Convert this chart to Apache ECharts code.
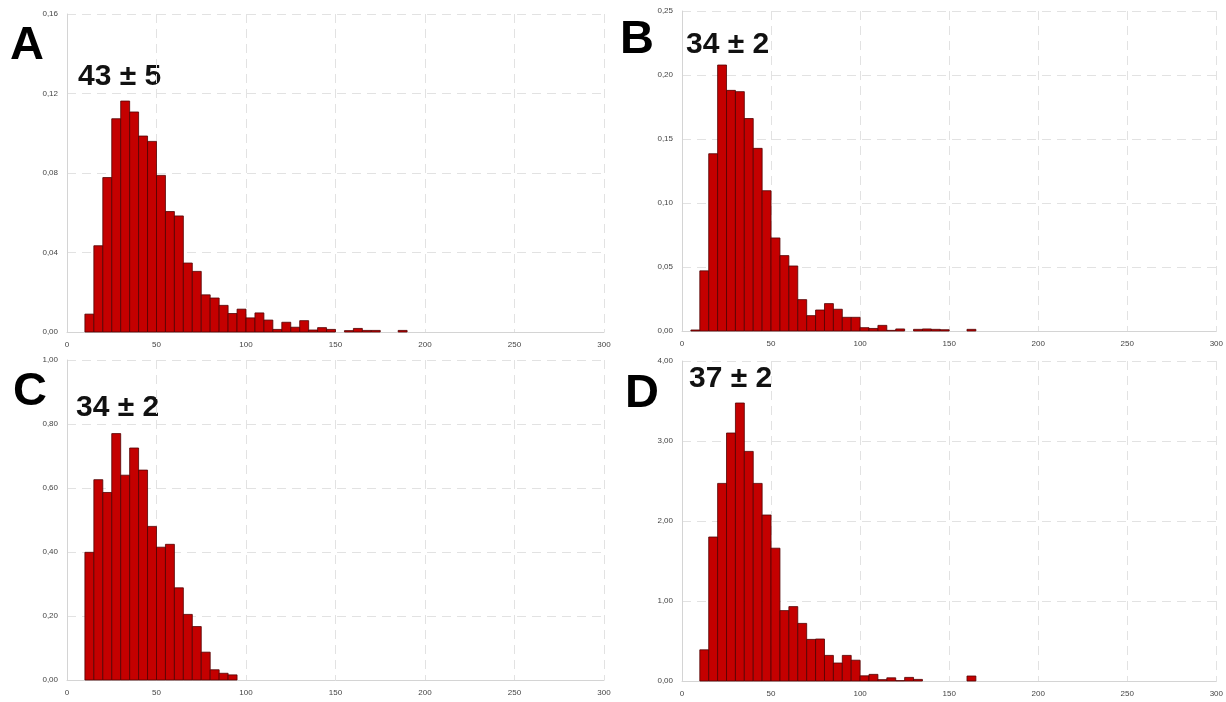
<!DOCTYPE html>
<html>
<head>
<meta charset="UTF-8">
<title>Histograms A-D</title>
<script src="https://cdn.jsdelivr.net/npm/echarts@6/dist/echarts.min.js"></script>
<style>
  html, body { margin: 0; padding: 0; background: #fff; }
  #main { width: 1226px; height: 702px; }
</style>
</head>
<body>
<div id="main"></div>
<script>
// bin width for every panel (x units)
var binWidth = 5;

// panel A: bins start at 10
var startA = 10;
var heightsA = [0.009, 0.0434, 0.0777, 0.1073, 0.1162, 0.1107, 0.0986, 0.0959, 0.0788, 0.0606,
  0.0584, 0.0347, 0.0305, 0.0187, 0.0171, 0.0134, 0.0093, 0.0115, 0.0071, 0.0096,
  0.006, 0.0013, 0.0049, 0.0024, 0.0057, 0.001, 0.0022, 0.0013, 0, 0.0007,
  0.0018, 0.0008, 0.0008, 0, 0, 0.0008];

// panel B: bins start at 5
var startB = 5;
var heightsB = [0.0008, 0.047, 0.1385, 0.2078, 0.188, 0.187, 0.166, 0.1427, 0.1096, 0.0727,
  0.0589, 0.0508, 0.0245, 0.012, 0.0164, 0.0214, 0.017, 0.0107, 0.0107, 0.0026,
  0.002, 0.0044, 0.0005, 0.0016, 0, 0.0013, 0.0016, 0.0013, 0.001, 0,
  0, 0.0013];

// panel C: bins start at 10
var startC = 10;
var heightsC = [0.399, 0.626, 0.586, 0.770, 0.640, 0.725, 0.656, 0.480, 0.415, 0.424,
  0.288, 0.205, 0.167, 0.087, 0.032, 0.021, 0.016];

// panel D: bins start at 10
var startD = 10;
var heightsD = [0.39, 1.80, 2.47, 3.10, 3.475, 2.87, 2.47, 2.075, 1.66, 0.88,
  0.93, 0.72, 0.52, 0.525, 0.32, 0.225, 0.32, 0.26, 0.065, 0.083,
  0.017, 0.04, 0.005, 0.045, 0.02, 0, 0, 0, 0, 0,
  0.0625];

// y axis ranges
var yMax = [0.16, 0.25, 1.0, 4.0];
var yStep = [0.04, 0.05, 0.2, 1.0];

// panel labels and means
var panelLetters = ['A', 'B', 'C', 'D'];
var panelMeans = ['43 ± 5', '34 ± 2', '34 ± 2', '37 ± 2'];

function toBins(start, heights) {
  var out = [];
  for (var i = 0; i < heights.length; i++) {
    if (heights[i] > 0) {
      out.push([start + i * binWidth, start + (i + 1) * binWidth, heights[i]]);
    }
  }
  return out;
}

var allBins = [
  toBins(startA, heightsA),
  toBins(startB, heightsB),
  toBins(startC, heightsC),
  toBins(startD, heightsD)
];

var myChart = echarts.init(document.getElementById('main'));

var grids = [
  { left: 67, top: 14, width: 537, height: 318 },
  { left: 682, top: 11, width: 535, height: 320 },
  { left: 67, top: 360, width: 537, height: 320 },
  { left: 682, top: 361, width: 535, height: 320 }
];

var dashGrid = { show: true, lineStyle: { color: '#e2e2e2', type: [9, 6], width: 1 } };

var xAxes = [], yAxes = [], series = [];
for (var k = 0; k < 4; k++) {
  xAxes.push({
    type: 'value', gridIndex: k, min: 0, max: 300, interval: 50,
    axisLine: { show: true, onZero: false, lineStyle: { color: '#d4d4d4' } },
    axisTick: { show: false },
    splitLine: dashGrid,
    axisLabel: { color: '#444', fontSize: 8, margin: 9, fontFamily: 'Liberation Sans' }
  });
  yAxes.push({
    type: 'value', gridIndex: k, min: 0, max: yMax[k], interval: yStep[k],
    axisLine: { show: true, lineStyle: { color: '#d4d4d4' } },
    axisTick: { show: false },
    splitLine: dashGrid,
    axisLabel: {
      color: '#444', fontSize: 8, margin: 9, fontFamily: 'Liberation Sans',
      formatter: function (v) { return v.toFixed(2).replace('.', ','); }
    }
  });
  series.push({
    type: 'custom',
    xAxisIndex: k,
    yAxisIndex: k,
    data: allBins[k],
    encode: { x: [0, 1], y: 2 },
    renderItem: function (params, api) {
      var p0 = api.coord([api.value(0), api.value(2)]);
      var p1 = api.coord([api.value(1), 0]);
      return {
        type: 'rect',
        shape: { x: p0[0], y: p0[1], width: p1[0] - p0[0], height: p1[1] - p0[1] },
        style: { fill: '#c40000', stroke: '#520000', lineWidth: 0.8 }
      };
    }
  });
}

// letter / mean text positions
var letterPos = [[27, 46], [637, 40], [30, 392], [642, 394]];
var meanPos = [[78, 77], [686, 45], [76, 408], [689, 379]];
var graphics = [];
for (var j = 0; j < 4; j++) {
  graphics.push({
    type: 'text', x: letterPos[j][0], y: letterPos[j][1],
    style: { text: panelLetters[j], fill: '#000', font: 'bold 47px "Liberation Sans", Arial',
      textAlign: 'center', textVerticalAlign: 'middle' }
  });
  graphics.push({
    type: 'text', x: meanPos[j][0], y: meanPos[j][1],
    style: { text: panelMeans[j], fill: '#111', font: 'bold 30px "Liberation Sans", Arial',
      textAlign: 'left', textVerticalAlign: 'middle' }
  });
}

var option = {
  animation: false,
  grid: grids,
  xAxis: xAxes,
  yAxis: yAxes,
  series: series,
  graphic: graphics
};

myChart.setOption(option);
</script>
</body>
</html>
